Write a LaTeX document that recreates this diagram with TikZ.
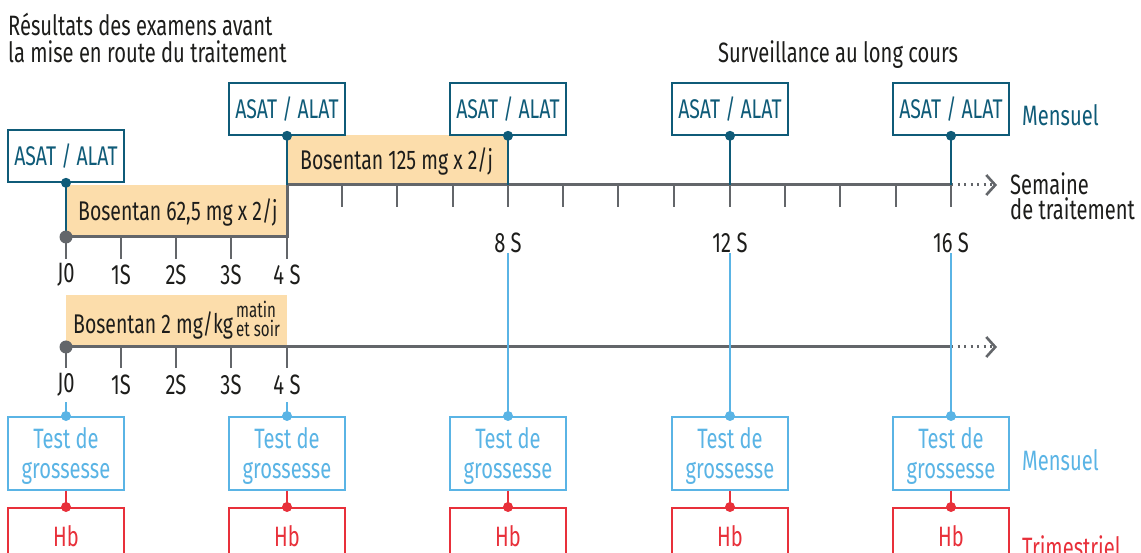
\documentclass[tikz,border=0pt]{standalone}
\usepackage{fontspec}
\setmainfont[FakeStretch=0.72]{Fira Sans}
\usetikzlibrary{arrows.meta}
\definecolor{asatc}{HTML}{0F5B78}
\definecolor{testc}{HTML}{5AB4E5}
\definecolor{hbc}{HTML}{E8303A}
\definecolor{dosec}{HTML}{FCDDAB}
\definecolor{axec}{HTML}{63666A}
\definecolor{inkc}{HTML}{1D1D1B}
\newcommand{\testtxt}{\rule{0pt}{27pt}Test de\\grossesse}
\tikzset{
  txt/.style={font=\fontsize{28}{29}\selectfont,text=inkc,inner sep=0pt},
  dosetxt/.style={txt,anchor=west,font=\fontsize{27}{28}\selectfont},
  asatbox/.style={draw=asatc,line width=1.6pt,fill=white,text=asatc,minimum width=116pt,
    minimum height=52pt,inner sep=0pt,font=\fontsize{27}{29}\selectfont},
  testbox/.style={draw=testc,line width=1.6pt,text=testc,minimum width=116pt,minimum height=73pt,
    inner sep=0pt,align=center,font=\fontsize{28}{30}\selectfont},
  hbbox/.style={draw=hbc,line width=1.6pt,text=hbc,minimum width=116pt,minimum height=56pt,
    inner sep=0pt,font=\fontsize{28}{30}\selectfont},
  bullet/.style={circle,fill=#1,inner sep=0pt,minimum size=10pt},
  axisline/.style={draw=axec,line width=3pt},
  tickline/.style={draw=axec,line width=1.6pt},
  dotline/.style={draw=axec,line width=3pt,dash pattern=on 2pt off 4.5pt,
    -{Straight Barb[length=9pt,width=20pt,line width=2.6pt]}},
}
\begin{document}
\begin{tikzpicture}[x=1pt,y=-1pt]
  \useasboundingbox (0,0) rectangle (1141,553);
  \clip (0,0) rectangle (1141,553);

  % posologies
  \fill[dosec] (66,185) rectangle (287,237);
  \fill[dosec] (287,135) rectangle (508,185);
  \fill[dosec] (66,295) rectangle (287,347);
  \node[dosetxt] (dose1) at (78,212) {Bosentan 62,5 mg x 2/j};
  \node[dosetxt] (dose2) at (300,161) {Bosentan 125 mg x 2/j};
  \node[dosetxt] (dose3) at (73,325) {Bosentan 2 mg/kg};
  \node[txt,anchor=west,align=left,font=\fontsize{21}{19}\selectfont] (dose3b) at (236,319) {matin\\et soir};

  % titres
  \node[txt,anchor=north west,align=left,font=\fontsize{28}{27}\selectfont] (avant) at (8,13) {Résultats des examens avant\\la mise en route du traitement};
  \node[txt,anchor=north] (long) at (838,40) {Surveillance au long cours};
  \node[txt,anchor=north west,align=left,font=\fontsize{28}{25}\selectfont] (semaine) at (1010,172) {Semaine\\de traitement};

  % frise du haut
  \coordinate (j0) at (66,237);
  \coordinate (s4a) at (287,237);
  \coordinate (s4b) at (287,185);
  \coordinate (s16) at (951,185);
  \coordinate (fin1) at (997,185);
  \draw[axisline] (j0) -- (s4a) -- (s4b) -- (s16);
  \draw[dotline] (s16) -- (fin1);
  \foreach \x in {66,121,176,231,287}
    \draw[tickline] (\x,237) -- (\x,259);
  \foreach \x in {342,397,453,508,563,618,674,730,785,840,896,951}
    \draw[tickline] (\x,185) -- (\x,207);
  \node[txt] (l0) at (66,275) {J0};
  \node[txt] (l1) at (121,275) {1S};
  \node[txt] (l2) at (176,275) {2S};
  \node[txt] (l3) at (231,275) {3S};
  \node[txt] (l4) at (287,275) {4 S};
  \node[txt] (l8) at (508,243) {8 S};
  \node[txt] (l12) at (730,243) {12 S};
  \node[txt] (l16) at (951,243) {16 S};

  % frise du bas
  \coordinate (k0) at (66,347);
  \coordinate (k16) at (951,347);
  \coordinate (fin2) at (997,347);
  \draw[axisline] (k0) -- (k16);
  \draw[dotline] (k16) -- (fin2);
  \foreach \x in {66,121,176,231,287}
    \draw[tickline] (\x,347) -- (\x,368);
  \node[txt] (m0) at (66,385) {J0};
  \node[txt] (m1) at (121,385) {1S};
  \node[txt] (m2) at (176,385) {2S};
  \node[txt] (m3) at (231,385) {3S};
  \node[txt] (m4) at (287,385) {4 S};

  % ASAT / ALAT
  \node[asatbox] (asat0) at (66,156) {ASAT / ALAT};
  \node[asatbox] (asat4) at (287,109) {ASAT / ALAT};
  \node[asatbox] (asat8) at (508,109) {ASAT / ALAT};
  \node[asatbox] (asat12) at (730,109) {ASAT / ALAT};
  \node[asatbox] (asat16) at (951,109) {ASAT / ALAT};
  \node[txt,text=asatc,anchor=west] (mens1) at (1022,115) {Mensuel};
  \coordinate (a4) at (287,185);
  \coordinate (a8) at (508,185);
  \coordinate (a12) at (730,185);
  \coordinate (a16) at (951,185);
  \begin{scope}[draw=asatc,line width=2.6pt]
    \draw (asat0.south) -- (j0);
    \draw (asat4.south) -- (a4);
    \draw (asat8.south) -- (a8);
    \draw (asat12.south) -- (a12);
    \draw (asat16.south) -- (a16);
  \end{scope}
  \node[bullet=axec,minimum size=13pt] (d0) at (j0) {};
  \node[bullet=axec,minimum size=13pt] (e0) at (k0) {};
  \node[bullet=asatc] at (asat0.south) {};
  \node[bullet=asatc] at (asat4.south) {};
  \node[bullet=asatc] at (asat8.south) {};
  \node[bullet=asatc] at (asat12.south) {};
  \node[bullet=asatc] at (asat16.south) {};

  % tests de grossesse et Hb
  \node[testbox,anchor=north] (test0) at (66,416) {\testtxt};
  \node[testbox,anchor=north] (test4) at (287,416) {\testtxt};
  \node[testbox,anchor=north] (test8) at (508,416) {\testtxt};
  \node[testbox,anchor=north] (test12) at (730,416) {\testtxt};
  \node[testbox,anchor=north] (test16) at (951,416) {\testtxt};
  \node[hbbox,anchor=north] (hb0) at (66,507) {Hb};
  \node[hbbox,anchor=north] (hb4) at (287,507) {Hb};
  \node[hbbox,anchor=north] (hb8) at (508,507) {Hb};
  \node[hbbox,anchor=north] (hb12) at (730,507) {Hb};
  \node[hbbox,anchor=north] (hb16) at (951,507) {Hb};
  \node[txt,text=testc,anchor=west] (mens2) at (1022,460) {Mensuel};
  \node[txt,text=hbc,anchor=west] (trim) at (1022,547) {Trimestriel};
  \begin{scope}[draw=testc,line width=2.6pt]
    \draw (test0.north) -- ++(0,-14);
    \draw (test4.north) -- ++(0,-14);
    \draw (test8.north) -- (l8.south);
    \draw (test12.north) -- (l12.south);
    \draw (test16.north) -- (l16.south);
  \end{scope}
  \begin{scope}[draw=hbc,line width=2.6pt]
    \draw (test0.south) -- (hb0.north);
    \draw (test4.south) -- (hb4.north);
    \draw (test8.south) -- (hb8.north);
    \draw (test12.south) -- (hb12.north);
    \draw (test16.south) -- (hb16.north);
  \end{scope}
  \node[bullet=testc] at (test0.north) {};
  \node[bullet=testc] at (test4.north) {};
  \node[bullet=testc] at (test8.north) {};
  \node[bullet=testc] at (test12.north) {};
  \node[bullet=testc] at (test16.north) {};
  \node[bullet=hbc] at (hb0.north) {};
  \node[bullet=hbc] at (hb4.north) {};
  \node[bullet=hbc] at (hb8.north) {};
  \node[bullet=hbc] at (hb12.north) {};
  \node[bullet=hbc] at (hb16.north) {};
\end{tikzpicture}
\end{document}
